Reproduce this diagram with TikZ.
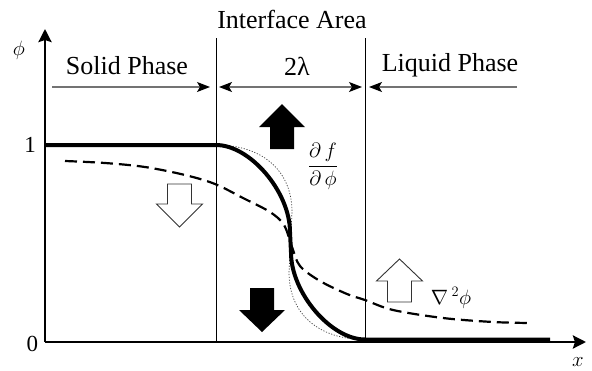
\documentclass[tikz,border=0pt]{standalone}
\usepackage{fontspec}
\setmainfont{Liberation Serif}
\usetikzlibrary{arrows.meta}
\newcommand{\blockarrow}[5]{%
  \path[#1] ({#2-12},#5) -- ({#2-12},#4) -- ({#2-23},#4) -- (#2,#3) --
    ({#2+23},#4) -- ({#2+12},#4) -- ({#2+12},#5) -- cycle;}
\tikzset{PhTip/.tip={Stealth[black, length=13pt, width=10pt, inset=3pt]},
  AxTip/.tip={Stealth[length=13pt,width=13pt,inset=2pt]}}
\begin{document}
\begin{tikzpicture}[x=1pt,y=-1pt,
  lbl/.style={inner sep=0pt, anchor=base, font=\fontsize{26}{30}\selectfont},
  numlbl/.style={inner sep=0pt, font=\fontsize{23}{27}\selectfont},
  mathlbl/.style={inner sep=0pt},
  axisline/.style={line width=2.6pt, -{AxTip}},
  divider/.style={line width=0.9pt},
  phase/.style={draw=black!55, line width=1.2pt},
  solidc/.style={line width=4pt, line join=round},
  dashc/.style={line width=2.2pt, dash pattern=on 12pt off 6pt},
  dotc/.style={line width=0.7pt, draw=black!75, dash pattern=on 1.2pt off 1.6pt},
  blackarr/.style={fill=black},
  whitearr/.style={fill=white, draw=black!80, line width=0.9pt},
]
\useasboundingbox (0,0) rectangle (592,370);

% dividers
\coordinate (d1t) at (216,38); \coordinate (d1b) at (216,342);
\coordinate (d2t) at (365.5,38); \coordinate (d2b) at (365.5,342);
\draw[divider] (d1t) -- (d1b);
\draw[divider] (d2t) -- (d2b);

% axes
\coordinate (o) at (45,342);
\coordinate (ytop) at (45,29);
\coordinate (xend) at (586,342);
\draw[axisline] (o) -- (ytop);
\draw[axisline] (o) -- (xend);

% phase arrows
\coordinate (s1) at (52,87); \coordinate (s2) at (210,87);
\coordinate (i1) at (219,87); \coordinate (i2) at (362,87);
\coordinate (l1) at (517,87); \coordinate (l2) at (369,87);
\draw[phase, -{PhTip}] (s1) -- (s2);
\draw[phase, {PhTip}-{PhTip}] (i1) -- (i2);
\draw[phase, -{PhTip}] (l1) -- (l2);

% dotted profile
\draw[dotc] (216,145) .. controls (262.6,145) and (292,170.9) .. (292,212)
  -- (289,272.5) .. controls (289,313.6) and (318.4,339.5) .. (365,339.5);

% dashed profile
\draw[dashc] plot[smooth, tension=0.55] coordinates {
  (65,161) (105,163) (145,167) (185,175) (215,184) (243,198) (270,212)
  (284,225) (292,247) (300,266) (320,281) (347,294) (365,300) (393,310)
  (443,318) (493,322) (530,323)};

% solid profile
\draw[solidc] (46,145) -- (216,145) .. controls (250.1,145) and (290,191.9) .. (290,232)
  -- (291,252.5) .. controls (291,292.6) and (330.9,339.5) .. (365,339.5) -- (550,339.5);

% block arrows
\blockarrow{blackarr}{282}{104}{127}{149}
\blockarrow{blackarr}{262}{332}{310}{288}
\blockarrow{whitearr}{179.5}{227}{204}{184}
\blockarrow{whitearr}{399.5}{259}{281}{302}

% labels
\node[lbl] (ia) at (292,28) {Interface Area};
\node[lbl] (sp) at (127,74) {Solid Phase};
\node[lbl] (lam) at (297,75) {2λ};
\node[lbl] (lp) at (450,71) {Liquid Phase};
\node[numlbl] (one) at (30,144.5) {1};
\node[numlbl] (zero) at (32.5,344) {0};
\node[mathlbl, font=\fontsize{20}{24}\selectfont] (philbl) at (19,50) {$\phi$};
\node[mathlbl, font=\fontsize{21}{25}\selectfont] (xlbl) at (578,362) {$x$};
\node[mathlbl, font=\fontsize{21}{25}\selectfont] (dfdphi) at (323,166)
  {$\displaystyle\frac{\partial\, f}{\partial\,\phi}$};
\node[mathlbl, font=\fontsize{21}{25}\selectfont] (lap) at (451,298) {$\nabla\,^{2}\phi$};
\end{tikzpicture}
\end{document}
